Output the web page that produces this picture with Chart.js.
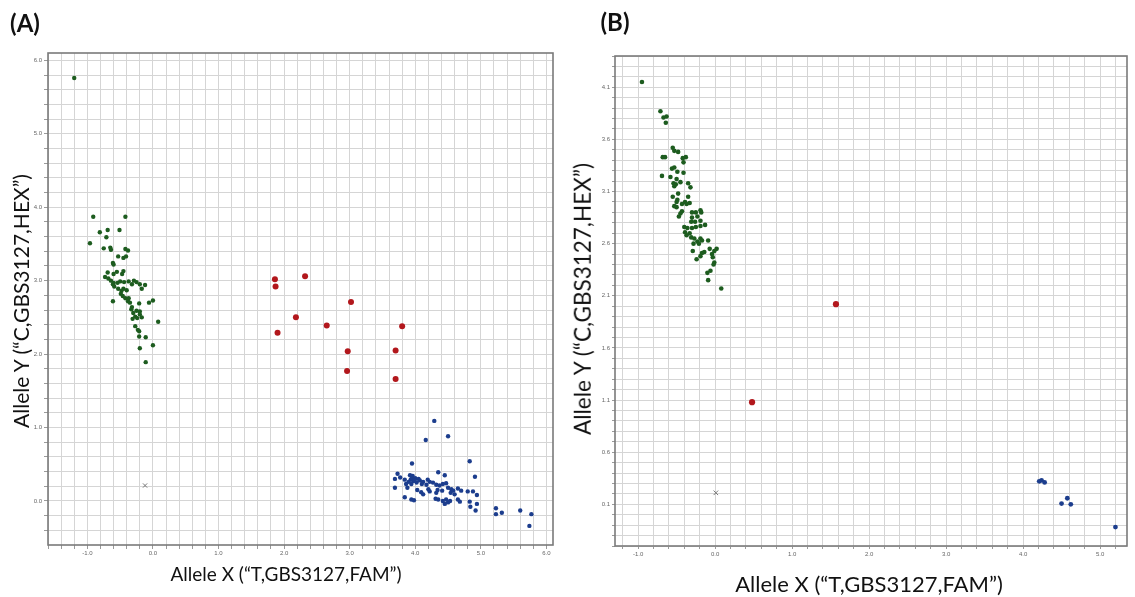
<!DOCTYPE html>
<html>
<head>
<meta charset="utf-8">
<script src="https://cdn.jsdelivr.net/npm/chart.js@4.4.1/dist/chart.umd.min.js"></script>
<style>
  html, body { margin: 0; padding: 0; background: #fff; }
  body { width: 1135px; height: 597px; position: relative; overflow: hidden; font-family: Lato, "Open Sans", sans-serif; color: #111; }
  .panel { position: absolute; top: 0; width: 565px; height: 597px; }
  #wrapA { left: 0; }
  #wrapB { left: 570px; }
  .txt { position: absolute; white-space: nowrap; line-height: 1; transform: translate(-50%, -50%); }
  .rot { transform: translate(-50%, -50%) rotate(-90deg); }
  .tag { font-weight: bold; font-size: 24px; }
</style>
</head>
<body>
<div class="panel" id="wrapA"><canvas id="chartA" width="565" height="597"></canvas></div>
<div class="panel" id="wrapB"><canvas id="chartB" width="565" height="597"></canvas></div>

<div class="txt tag" style="left:25px;top:23px;">(A)</div>
<div class="txt tag" style="left:615px;top:22px;">(B)</div>
<div class="txt" style="left:286px;top:573px;font-size:19px;">Allele X (“T,GBS3127,FAM”)</div>
<div class="txt rot" style="left:20px;top:301px;font-size:21px;">Allele Y (“C,GBS3127,HEX”)</div>
<div class="txt" style="left:869px;top:584px;font-size:22px;">Allele X (“T,GBS3127,FAM”)</div>
<div class="txt rot" style="left:583px;top:299px;font-size:22.5px;">Allele Y (“C,GBS3127,HEX”)</div>

<script>
// ---- Panel A: genotype clusters (allele X vs allele Y signal) ----
const aAlleleY = [
  [-1.20,5.76],
  [-0.91,3.87],[-0.42,3.87],
  [-0.81,3.66],[-0.69,3.69],[-0.51,3.69],
  [-0.71,3.59],[-0.96,3.51],
  [-0.75,3.44],[-0.65,3.45],[-0.64,3.42],[-0.42,3.43],[-0.38,3.41],
  [-0.53,3.33],[-0.45,3.31],[-0.41,3.33],
  [-0.61,3.24],[-0.60,3.22],
  [-0.69,3.11],[-0.60,3.09],[-0.55,3.12],[-0.47,3.09],[-0.45,3.13],[-0.73,3.05],[-0.68,3.03],
  [-0.64,3.00],[-0.60,2.97],[-0.54,2.97],[-0.50,2.99],[-0.44,2.98],[-0.37,2.99],[-0.29,3.00],
  [-0.25,2.98],[-0.20,2.95],[-0.12,2.94],[-0.17,2.89],[-0.59,2.92],[-0.53,2.89],[-0.45,2.89],
  [-0.32,2.95],[-0.48,2.86],[-0.40,2.87],[-0.61,2.95],
  [-0.49,2.82],[-0.42,2.76],[-0.37,2.76],[-0.38,2.72],[-0.35,2.70],[-0.61,2.72],[-0.46,2.79],
  [-0.21,2.69],[-0.06,2.70],[0.00,2.73],
  [-0.32,2.64],[-0.25,2.59],[-0.20,2.58],[-0.30,2.56],[-0.27,2.51],[-0.24,2.49],[-0.31,2.48],
  [-0.20,2.54],[-0.17,2.50],[-0.33,2.61],
  [0.08,2.44],
  [-0.27,2.38],[-0.23,2.33],[-0.21,2.31],[-0.21,2.24],
  [-0.11,2.23],[0.00,2.12],[-0.20,2.08],
  [-0.11,1.89]
];
const aHetero = [
  [1.86,3.02],[1.87,2.92],[2.32,3.06],[3.02,2.71],[2.18,2.50],[1.90,2.29],
  [2.65,2.39],[3.80,2.38],[2.97,2.04],[3.70,2.05],[2.96,1.77],[3.70,1.66]
];
const aAlleleX = [
  [4.29,1.09],[4.16,0.83],[4.50,0.88],[3.95,0.51],[4.83,0.54],
  [4.35,0.39],[4.45,0.35],[4.91,0.33],
  [3.73,0.37],[3.69,0.30],[3.77,0.32],[3.84,0.29],
  [3.92,0.35],[3.96,0.34],[4.00,0.31],[3.93,0.29],[3.97,0.27],[4.02,0.25],[3.94,0.23],
  [3.95,0.31],[3.99,0.28],[4.05,0.30],[3.90,0.26],
  [4.07,0.28],[4.12,0.26],[4.19,0.29],[4.22,0.26],[4.27,0.25],[4.10,0.23],[4.17,0.22],
  [3.86,0.23],[3.88,0.18],[3.69,0.18],
  [4.32,0.22],[4.37,0.21],[4.42,0.23],[4.47,0.24],[4.34,0.15],[4.41,0.14],[4.50,0.18],
  [4.55,0.16],[4.58,0.14],[4.65,0.17],[4.70,0.14],[4.60,0.09],[4.54,0.11],
  [4.03,0.15],[4.09,0.12],[4.12,0.09],[4.20,0.16],[4.22,0.13],[4.32,0.11],[4.35,0.02],
  [4.42,0.00],[4.47,0.02],[4.45,-0.04],[4.50,-0.02],[4.53,0.00],
  [3.84,0.05],[3.94,0.02],[3.98,0.01],[4.31,0.03],
  [4.65,0.02],[4.68,-0.01],[4.80,0.13],[4.88,0.13],[4.94,0.08],[4.83,-0.01],[4.94,-0.04],
  [4.84,-0.08],[4.92,-0.13],
  [5.23,-0.10],[5.23,-0.18],[5.32,-0.16],[5.60,-0.13],[5.77,-0.18],[5.74,-0.34]
];
const aNoTemplate = [[-0.12,0.21]];

// ---- Panel B ----
const bAlleleY = [
  [-0.95,4.15],
  [-0.71,3.87],[-0.67,3.81],[-0.63,3.82],[-0.64,3.76],
  [-0.55,3.52],[-0.53,3.49],[-0.48,3.48],
  [-0.68,3.43],[-0.65,3.43],[-0.42,3.42],[-0.38,3.43],[-0.41,3.38],
  [-0.56,3.32],[-0.53,3.33],[-0.49,3.29],[-0.41,3.28],
  [-0.69,3.25],[-0.58,3.24],[-0.50,3.22],
  [-0.54,3.18],[-0.51,3.17],[-0.45,3.19],[-0.35,3.18],
  [-0.53,3.15],[-0.32,3.14],
  [-0.48,3.08],[-0.55,3.05],[-0.49,3.02],[-0.35,3.05],[-0.39,3.00],[-0.50,3.00],[-0.43,2.98],[-0.33,2.99],
  [-0.53,2.96],[-0.50,2.95],[-0.37,2.98],
  [-0.43,2.91],[-0.45,2.89],[-0.47,2.86],
  [-0.30,2.90],[-0.25,2.90],[-0.19,2.92],[-0.18,2.90],
  [-0.30,2.85],[-0.23,2.86],[-0.31,2.81],[-0.26,2.81],[-0.19,2.82],
  [-0.40,2.76],[-0.36,2.75],[-0.30,2.75],[-0.25,2.76],[-0.19,2.77],[-0.13,2.78],
  [-0.39,2.71],[-0.33,2.70],[-0.37,2.68],[-0.31,2.66],[-0.27,2.65],[-0.19,2.65],[-0.23,2.62],
  [-0.17,2.63],[-0.28,2.60],[-0.09,2.63],[-0.21,2.60],
  [-0.29,2.53],[-0.17,2.51],[-0.14,2.52],[-0.24,2.45],[-0.07,2.55],[-0.04,2.50],[-0.01,2.53],
  [0.02,2.55],[-0.19,2.48],[-0.03,2.47],
  [-0.01,2.42],[-0.02,2.40],[-0.06,2.34],[-0.10,2.32],[-0.09,2.25],
  [0.08,2.17]
];
const bHetero = [[1.57,2.02],[0.48,1.08]];
const bAlleleX = [
  [4.21,0.32],[4.24,0.33],[4.28,0.31],
  [4.50,0.107],[4.575,0.158],[4.62,0.10],
  [5.20,-0.118]
];
const bNoTemplate = [[0.01,0.21]];

// Axis windows and label spacing
const aXRange = [-1.6, 6.1], aYRange = [-0.6, 6.1];
const bXRange = [-1.3, 5.35], bYRange = [-0.3, 4.4];

const GREEN = '#1d5c1f', RED = '#b2171c', BLUE = '#1c3d8d', GREY = '#777';

// Outline of the plotting area, drawn under the points
const framePlugin = {
  id: 'frame',
  beforeDatasetsDraw(chart, args, opts) {
    const { ctx, chartArea: a } = chart;
    ctx.save();
    ctx.strokeStyle = opts.color || '#777';
    ctx.lineWidth = opts.width || 1.5;
    ctx.strokeRect(a.left, a.top, a.right - a.left, a.bottom - a.top);
    ctx.restore();
  }
};

const toPts = arr => arr.map(([x, y]) => ({ x, y }));
const isWhole = v => Math.abs(v - Math.round(v)) < 1e-6;

function series(data, color, radius, style) {
  return {
    data: toPts(data),
    backgroundColor: color,
    borderColor: color,
    borderWidth: style ? 1 : 0,
    pointRadius: radius,
    pointHoverRadius: radius,
    pointStyle: style || 'circle'
  };
}

function makePanel(id, cfg) {
  const tickFont = { family: '"Liberation Sans", Arial, sans-serif', size: 6 };
  new Chart(document.getElementById(id), {
    type: 'scatter',
    data: { datasets: cfg.datasets },
    options: {
      responsive: false,
      animation: false,
      events: [],
      layout: { padding: { top: cfg.padTop, right: cfg.padRight, left: 0, bottom: 0 } },
      plugins: { legend: { display: false }, tooltip: { enabled: false },
                 frame: { color: '#7a7a7a', width: 1.6 } },
      scales: {
        x: {
          type: 'linear', min: cfg.xRange[0], max: cfg.xRange[1],
          border: { display: false },
          grid: { color: '#d5d5d5', lineWidth: 1, tickLength: cfg.tickLen, tickColor: '#9a9a9a' },
          ticks: { stepSize: cfg.xStep, autoSkip: false, includeBounds: false, maxRotation: 0,
                   color: '#666', font: tickFont, padding: cfg.xPad, callback: cfg.xLabel },
          afterFit: s => { s.height = cfg.xAxisH; }
        },
        y: {
          type: 'linear', min: cfg.yRange[0], max: cfg.yRange[1],
          border: { display: false },
          grid: { color: '#d5d5d5', lineWidth: 1, tickLength: cfg.tickLen, tickColor: '#9a9a9a' },
          ticks: { stepSize: cfg.yStep, autoSkip: false, includeBounds: false,
                   color: '#666', font: tickFont, padding: 2, callback: cfg.yLabel },
          afterFit: s => { s.width = cfg.yAxisW; }
        }
      }
    },
    plugins: [framePlugin]
  });
}

makePanel('chartA', {
  datasets: [
    series(aAlleleY, GREEN, 2.2),
    series(aHetero, RED, 3),
    series(aAlleleX, BLUE, 2.2),
    series(aNoTemplate, GREY, 3, 'crossRot')
  ],
  xRange: aXRange, yRange: aYRange, xStep: 0.2, yStep: 0.2,
  xLabel: v => isWhole(v) ? v.toFixed(1) : '',
  yLabel: v => isWhole(v) ? v.toFixed(1) : '',
  padTop: 53, padRight: 12, yAxisW: 48, xAxisH: 52, tickLen: 4, xPad: 1
});

makePanel('chartB', {
  datasets: [
    series(bAlleleY, GREEN, 2.3),
    series(bHetero, RED, 3.1),
    series(bAlleleX, BLUE, 2.4),
    series(bNoTemplate, GREY, 3.2, 'crossRot')
  ],
  xRange: bXRange, yRange: bYRange, xStep: 0.2, yStep: 0.1,
  xLabel: v => isWhole(v) ? v.toFixed(1) : '',
  yLabel: v => {
    const k = Math.round(v * 10);
    return (Math.abs(v * 10 - k) < 1e-6 && ((k % 5) + 5) % 5 === 1) ? v.toFixed(1) : '';
  },
  padTop: 56, padRight: 8, yAxisW: 45, xAxisH: 51, tickLen: 3, xPad: 2
});
</script>
</body>
</html>
